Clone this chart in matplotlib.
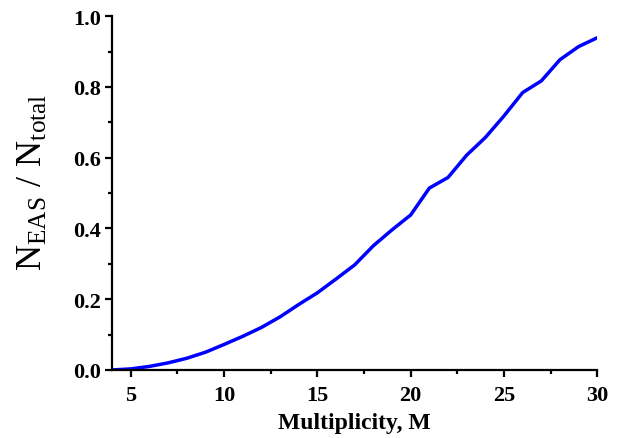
import matplotlib
matplotlib.use('Agg')
import matplotlib.pyplot as plt
from matplotlib.ticker import MultipleLocator

# multiplicity M and fraction of EAS events
multiplicity = [4, 5, 6, 7, 8, 9, 10, 11, 12, 13, 14, 15, 16, 17,
                18, 19, 20, 21, 22, 23, 24, 25, 26, 27, 28, 29, 30]
fraction = [0.0, 0.003, 0.01, 0.02, 0.033, 0.05, 0.072, 0.095, 0.12, 0.15,
            0.185, 0.218, 0.257, 0.297, 0.351, 0.396, 0.438, 0.514, 0.544,
            0.607, 0.657, 0.718, 0.784, 0.817, 0.877, 0.914, 0.939]

plt.rcParams['font.family'] = 'Liberation Serif'
plt.rcParams['mathtext.fontset'] = 'custom'
plt.rcParams['mathtext.rm'] = 'Liberation Serif'

fig = plt.figure(figsize=(6.19, 4.39), dpi=100)
ax = fig.add_axes([0.181, 0.155, 0.784, 0.806])

ax.plot(multiplicity, fraction, color='#0000ff', lw=2.5)

ax.set_xlim(4, 30)
ax.set_ylim(0, 1.0)
ax.xaxis.set_major_locator(MultipleLocator(5))
ax.xaxis.set_minor_locator(MultipleLocator(2.5))
ax.yaxis.set_major_locator(MultipleLocator(0.2))
ax.yaxis.set_minor_locator(MultipleLocator(0.1))
ax.yaxis.set_major_formatter(plt.FormatStrFormatter('%.1f'))

for s in ('top', 'right'):
    ax.spines[s].set_visible(False)
for s in ('left', 'bottom'):
    ax.spines[s].set_linewidth(1.6)

ax.tick_params(which='major', direction='out', length=5, width=1.6,
               labelsize=16, pad=3)
ax.tick_params(axis='x', which='major', pad=6)
ax.tick_params(which='minor', direction='out', length=3, width=1.6)
for lab in ax.get_xticklabels() + ax.get_yticklabels():
    lab.set_fontweight('bold')

ax.set_xlabel('Multiplicity, M', fontsize=17, fontweight='bold', labelpad=5)
fig.text(33 / 619, 1 - 182 / 439, r'$\mathrm{N_{EAS}\;/\;N_{total}}$',
         fontsize=26, rotation=90, ha='center', va='center')

fig.savefig('out.png', dpi=100)
